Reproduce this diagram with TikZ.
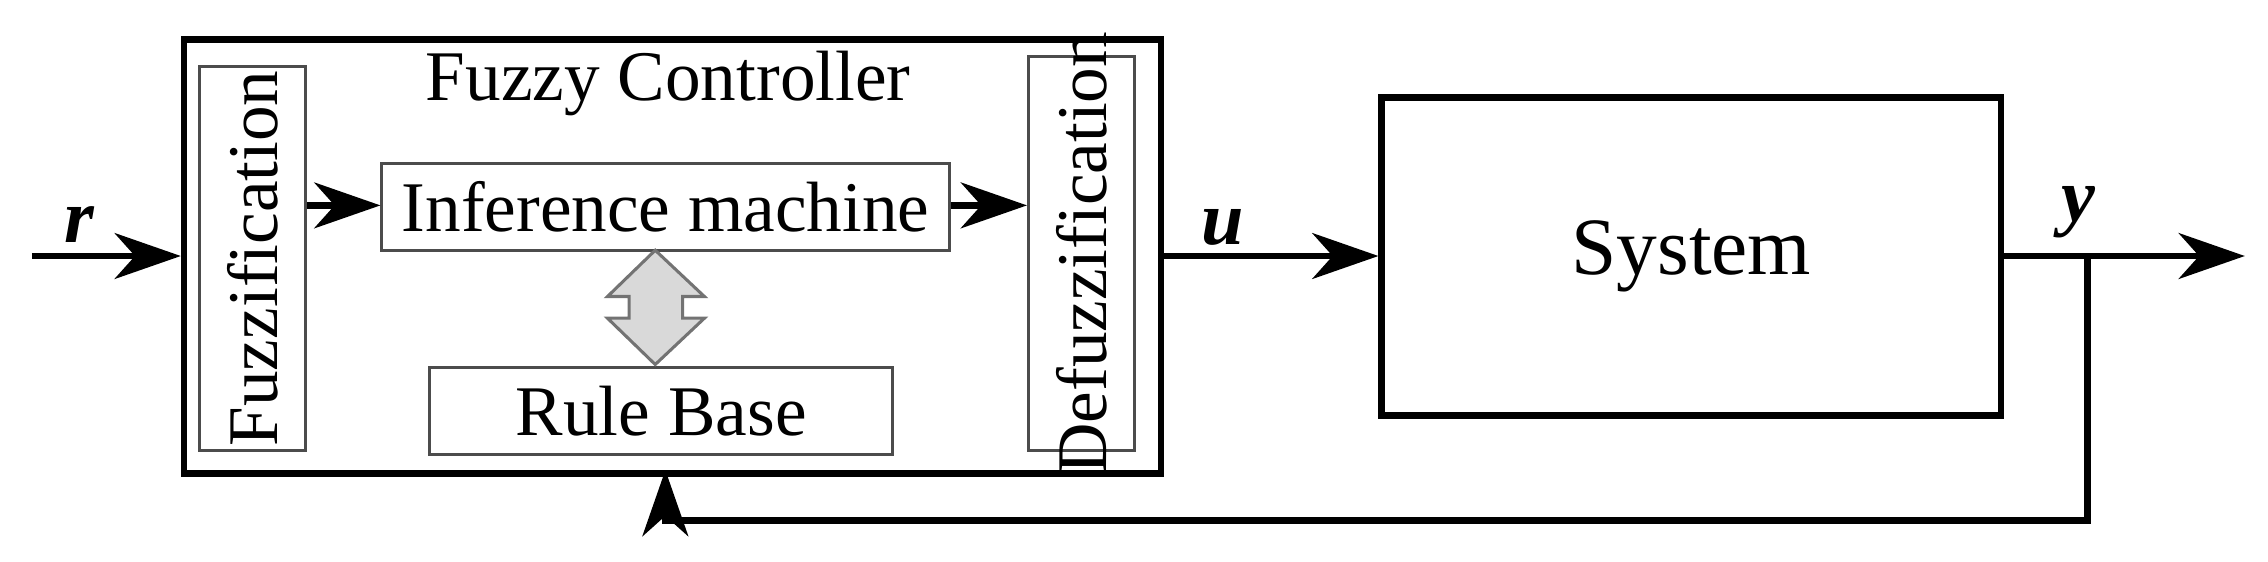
\documentclass[tikz,border=0pt]{standalone}
\usepackage{fontspec}
\setmainfont{Liberation Serif}
\usetikzlibrary{arrows.meta}
\begin{document}
\begin{tikzpicture}[x=0.01cm,y=-0.01cm,
  thin box/.style={draw=black!70,line width=0.6pt,fill=white,inner sep=0pt},
  sig/.style={line width=1.3pt,-{Stealth[length=13pt,width=9pt,inset=4pt]}},
  lbl/.style={font=\fontsize{15}{15}\selectfont\bfseries\itshape}]
\useasboundingbox (0,0) rectangle (1568,388);
\node[draw,line width=1.3pt,minimum width=6.75cm,minimum height=3.0cm,anchor=north west,inner sep=0pt] (fc) at (125,25) {};
\node[font=\fontsize{14}{14}\selectfont] (fct) at (462,58) {Fuzzy Controller};
\node[thin box,minimum width=0.73cm,minimum height=2.65cm,anchor=north west] (fz) at (137,45) {};
\node[rotate=90,font=\fontsize{14}{14}\selectfont] at (fz.center) {Fuzzification};
\node[thin box,minimum width=0.73cm,minimum height=2.72cm,anchor=north west] (dfz) at (710,38) {};
\node[rotate=90,font=\fontsize{14}{14}\selectfont] at (dfz.center) {Defuzzification};
\node[thin box,minimum width=3.92cm,minimum height=0.6cm,anchor=north west,font=\fontsize{14}{14}\selectfont] (inf) at (263,112) {Inference machine};
\node[thin box,minimum width=3.2cm,minimum height=0.6cm,anchor=north west,font=\fontsize{14}{14}\selectfont] (rb) at (296,253) {Rule Base};
\draw[draw=black!55,fill=black!15,line width=0.6pt] (453,173) -- (487,205) -- (472,205) -- (472,220) -- (487,220) -- (453,252) -- (420,220) -- (435,220) -- (435,205) -- (420,205) -- cycle;
\node[draw,line width=1.3pt,minimum width=4.28cm,minimum height=2.2cm,anchor=north west,inner sep=0pt,font=\fontsize{16}{16}\selectfont] (sys) at (953,65) {System};
\coordinate (rin) at (22,177);
\coordinate (yout) at (1552,177);
\coordinate (tap) at (1443,177);
\coordinate (fb1) at (1443,360);
\coordinate (fb2) at (460,360);
\coordinate (fbin) at (460,325);
\draw[sig] (rin) -- (rin -| fc.west);
\node[lbl] at (55,155) {r};
\draw[sig] (fz.east |- 0,142) -- (inf.west |- 0,142);
\draw[sig] (inf.east |- 0,142) -- (dfz.west |- 0,142);
\draw[sig] (fc.east |- 0,177) -- (sys.west |- 0,177);
\node[lbl] at (845,157) {u};
\draw[sig] (sys.east |- 0,177) -- (yout);
\node[lbl] at (1437,147) {y};
\draw[sig] (tap) -- (fb1) -- (fb2) -- (fbin);
\end{tikzpicture}
\end{document}
